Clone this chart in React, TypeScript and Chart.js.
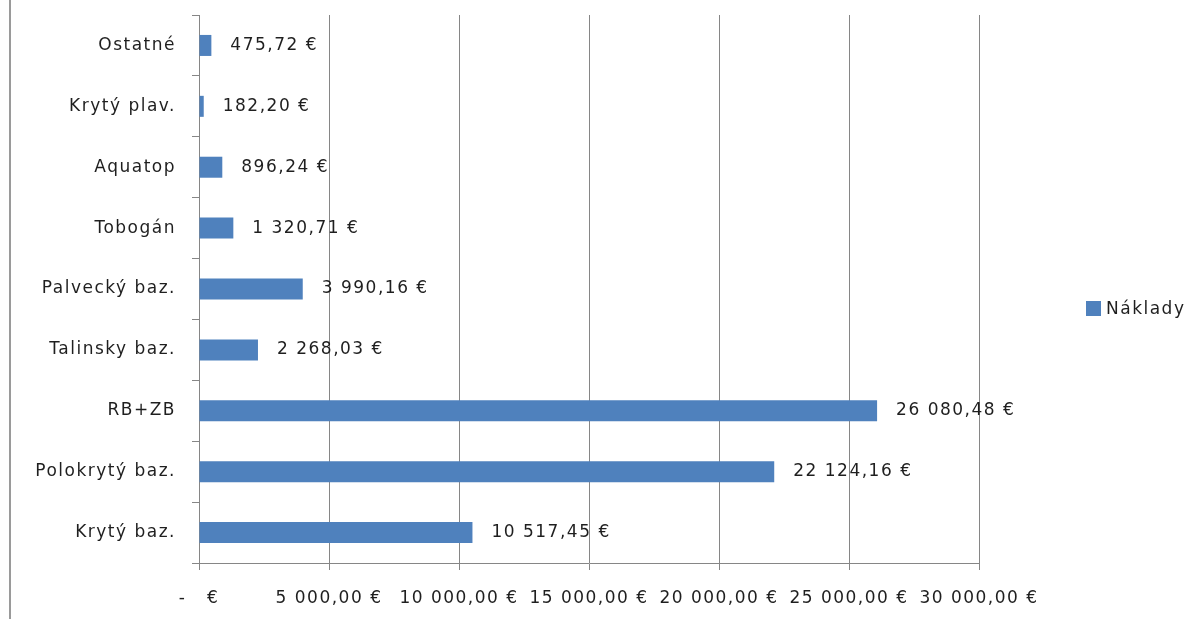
import React, { useEffect, useRef } from "react";
import { Chart, registerables } from "chart.js";

Chart.register(...registerables);

// ---- data ----
const categories = [
  "Ostatné",
  "Krytý plav.",
  "Aquatop",
  "Tobogán",
  "Palvecký baz.",
  "Talinsky baz.",
  "RB+ZB",
  "Polokrytý baz.",
  "Krytý baz.",
];
const costs = [475.72, 182.2, 896.24, 1320.71, 3990.16, 2268.03, 26080.48, 22124.16, 10517.45];
const seriesName = "Náklady";
const xMin = 0;
const xMax = 30000;
const xStep = 5000;

// ---- style ----
const BAR_COLOR = "#4F81BD";
const TEXT_COLOR = "#1f1f1f";
const GRID_COLOR = "#868686";
const FONT_FAMILY = "'DejaVu Sans', sans-serif";
const FONT_SIZE = 17;
const LETTER_SPACING = "1.5px";

function formatEuro(v: number): string {
  if (v === 0) return "-   €";
  const [i, d] = v.toFixed(2).split(".");
  const grouped = i.replace(/\B(?=(\d{3})+(?!\d))/g, " ");
  return `${grouped},${d} €`;
}

const spacingPlugin = {
  id: "letterSpacing",
  beforeDraw(chart: any) {
    (chart.ctx as any).letterSpacing = LETTER_SPACING;
  },
};

const valueLabels = {
  id: "valueLabels",
  afterDatasetsDraw(chart: any) {
    const ctx = chart.ctx;
    ctx.save();
    (ctx as any).letterSpacing = LETTER_SPACING;
    ctx.font = `${FONT_SIZE}px ${FONT_FAMILY}`;
    ctx.fillStyle = TEXT_COLOR;
    ctx.textAlign = "left";
    ctx.textBaseline = "middle";
    chart.data.datasets.forEach((ds: any, di: number) => {
      const meta = chart.getDatasetMeta(di);
      meta.data.forEach((el: any, i: number) => {
        ctx.fillText(formatEuro(ds.data[i]), el.x + 19, el.y);
      });
    });
    ctx.restore();
  },
};

export default function App() {
  const canvasRef = useRef<HTMLCanvasElement | null>(null);

  useEffect(() => {
    if (!canvasRef.current) return;
    const font = { family: FONT_FAMILY, size: FONT_SIZE };
    const chart = new Chart(canvasRef.current, {
      type: "bar",
      data: {
        labels: categories,
        datasets: [
          {
            label: seriesName,
            data: costs,
            backgroundColor: BAR_COLOR,
            borderWidth: 0,
            categoryPercentage: 1,
            barPercentage: 0.345,
          },
        ],
      },
      options: {
        indexAxis: "y",
        animation: false,
        responsive: false,
        layout: { padding: { top: 15, right: 224, bottom: 0, left: 0 } },
        plugins: {
          legend: { display: false },
          tooltip: { enabled: false },
        },
        scales: {
          x: {
            min: xMin,
            max: xMax,
            ticks: {
              stepSize: xStep,
              callback: (v: any) => formatEuro(Number(v)),
              font,
              color: TEXT_COLOR,
              padding: 18,
              maxRotation: 0,
              autoSkip: false,
            },
            grid: { color: GRID_COLOR, tickLength: 7, lineWidth: 1 },
            border: { color: GRID_COLOR },
            afterFit: (s: any) => {
              s.height = 56;
            },
          },
          y: {
            ticks: { font, color: TEXT_COLOR, padding: 16, autoSkip: false },
            grid: { drawOnChartArea: false, tickLength: 7, color: GRID_COLOR, offset: true },
            border: { color: GRID_COLOR },
            afterFit: (s: any) => {
              s.width = 199;
              s.paddingTop = 0;
              s.paddingBottom = 0;
            },
          },
        },
      } as any,
      plugins: [spacingPlugin, valueLabels],
    });
    return () => chart.destroy();
  }, []);

  return (
    <div
      style={{
        position: "fixed",
        left: 0,
        top: 0,
        width: 1203,
        height: 619,
        background: "#fff",
        overflow: "hidden",
      }}
    >
      <canvas ref={canvasRef} width={1203} height={619} style={{ position: "absolute", left: 0, top: 0 }} />
      <div
        style={{
          position: "absolute",
          left: 9,
          top: 0,
          width: 2,
          height: 619,
          background: "#9a9a9a",
        }}
      />
      <div
        style={{
          position: "absolute",
          left: 1086,
          top: 300,
          display: "flex",
          alignItems: "center",
          fontFamily: FONT_FAMILY,
          fontSize: FONT_SIZE,
          letterSpacing: LETTER_SPACING,
          color: TEXT_COLOR,
          lineHeight: "16px",
        }}
      >
        <span style={{ display: "inline-block", width: 15, height: 15, background: BAR_COLOR, marginRight: 5 }} />
        <span>{seriesName}</span>
      </div>
    </div>
  );
}
